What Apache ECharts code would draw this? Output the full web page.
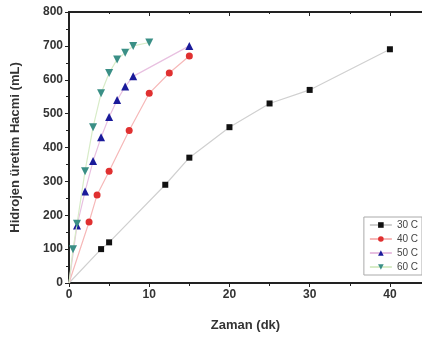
<!DOCTYPE html>
<html>
<head>
<meta charset="utf-8">
<script src="https://cdn.jsdelivr.net/npm/echarts@6/dist/echarts.min.js"></script>
<style>
  html, body { margin: 0; padding: 0; background: #fff; }
  #chart { width: 422px; height: 339px; }
</style>
</head>
<body>
<div id="chart"></div>
<script>
// series data: [minutes, mL]
const names = ['30 C', '40 C', '50 C', '60 C'];
const s30 = [[0, 0], [4, 100], [5, 120], [12, 290], [15, 370], [20, 460], [25, 530], [30, 570], [40, 690]];
const s40 = [[0, 0], [2.5, 180], [3.5, 260], [5, 330], [7.5, 450], [10, 560], [12.5, 620], [15, 670]];
const s50 = [[0, 0], [1, 170], [2, 270], [3, 360], [4, 430], [5, 490], [6, 540], [7, 580], [8, 610], [15, 700]];
const s60 = [[0, 0], [0.5, 100], [1, 175], [2, 330], [3, 460], [4, 560], [5, 620], [6, 660], [7, 680], [8, 700], [10, 710]];

const markColors = ['#111111', '#e03030', '#1a1a9a', '#3a8f86'];
const lineColors = ['#d0d0d0', '#f6b8b8', '#e8c0e0', '#d8ecc8'];
const symbols = ['rect', 'circle', 'triangle', 'path://M0,0 L10,0 L5,9 Z'];
const sizes = [6, 7, 8, 8];

const font = 'Liberation Sans, Arial, sans-serif';

const chart = echarts.init(document.getElementById('chart'), null, { renderer: 'canvas' });

const mkSeries = (i, data) => ({
  name: names[i],
  type: 'line',
  data: data.map((p) => (p[0] === 0 && p[1] === 0 ? { value: p, symbolSize: 0 } : p)),
  symbol: symbols[i],
  symbolSize: sizes[i],
  showAllSymbol: true,
  itemStyle: { color: markColors[i] },
  lineStyle: { color: lineColors[i], width: 1.2 },
  emphasis: { disabled: true },
  z: 3 + i,
});

const axisLine = { show: true, lineStyle: { color: '#222', width: 2 } };
const tickLabel = { fontFamily: font, fontSize: 12, fontWeight: 'bold', color: '#333' };
const nameStyle = { fontFamily: font, fontSize: 13, fontWeight: 'bold', color: '#333' };

chart.setOption({
  animation: false,
  backgroundColor: '#fff',
  grid: { left: 69, top: 12, right: 0, bottom: 56 },
  legend: {
    data: names,
    orient: 'vertical',
    right: 0,
    top: 217,
    itemWidth: 22,
    itemHeight: 7,
    itemGap: 4,
    padding: [3, 4, 3, 5],
    borderColor: '#aaa',
    borderWidth: 1,
    backgroundColor: '#fff',
    textStyle: { fontFamily: font, fontSize: 10, color: '#444' },
  },
  xAxis: [
    {
      type: 'value',
      min: 0,
      max: 44,
      interval: 10,
      name: 'Zaman (dk)',
      nameLocation: 'middle',
      nameGap: 36,
      nameTextStyle: nameStyle,
      axisLine,
      axisTick: { show: true, inside: false, length: 4, lineStyle: { color: '#222' } },
      minorTick: { show: true, splitNumber: 2, length: 3, lineStyle: { color: '#222' } },
      axisLabel: Object.assign({ margin: 6, showMaxLabel: false }, tickLabel),
      splitLine: { show: false },
    },
    {
      type: 'value',
      position: 'top',
      min: 0,
      max: 44,
      interval: 10,
      axisLine,
      axisTick: { show: true, inside: true, length: 4, lineStyle: { color: '#222' } },
      minorTick: { show: true, splitNumber: 2, length: 2, lineStyle: { color: '#222' } },
      axisLabel: { show: false },
      splitLine: { show: false },
    },
  ],
  yAxis: {
    type: 'value',
    min: 0,
    max: 800,
    interval: 100,
    name: 'Hidrojen üretim Hacmi (mL)',
    nameLocation: 'middle',
    nameGap: 47,
    nameTextStyle: nameStyle,
    axisLine,
    axisTick: { show: true, inside: false, length: 4, lineStyle: { color: '#222' } },
    minorTick: { show: true, splitNumber: 2, length: 3, lineStyle: { color: '#222' } },
    axisLabel: Object.assign({ margin: 6 }, tickLabel),
    splitLine: { show: false },
  },
  series: [mkSeries(0, s30), mkSeries(1, s40), mkSeries(2, s50), mkSeries(3, s60)],
});
</script>
</body>
</html>
